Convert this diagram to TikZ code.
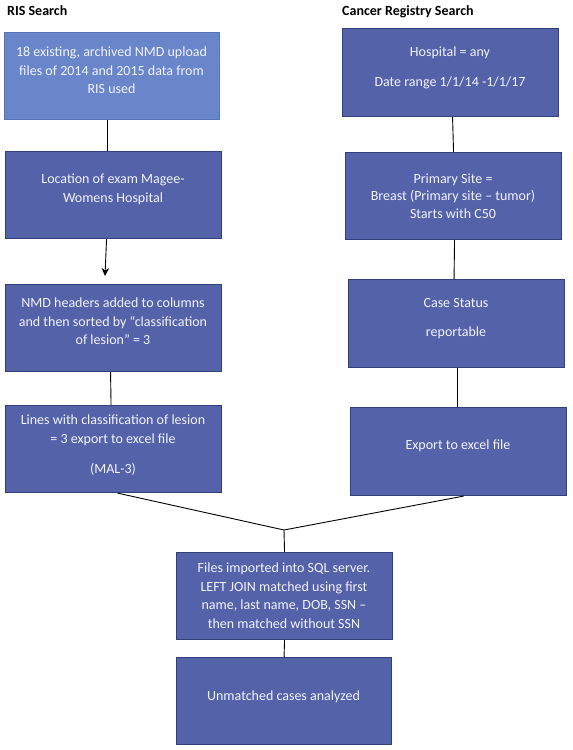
\documentclass[tikz,border=0pt]{standalone}
\usepackage{fontspec}
\setmainfont{Carlito}
\usetikzlibrary{arrows.meta}
\definecolor{boxfill}{RGB}{84,99,169}
\definecolor{boxdraw}{RGB}{50,63,125}
\definecolor{lightfill}{RGB}{104,134,201}
\definecolor{lightdraw}{RGB}{86,115,184}
\definecolor{txtcol}{RGB}{242,242,248}
\tikzset{
  stepbox/.style={draw=boxdraw, fill=boxfill, line width=1.1pt, rectangle, anchor=north west,
    minimum width=216pt, minimum height=87pt, inner sep=0pt},
  firstbox/.style={stepbox, draw=lightdraw, fill=lightfill},
  txt/.style={text=txtcol, align=center, font=\fontsize{14}{18.5}\selectfont, inner sep=0pt, anchor=north},
  hdr/.style={font=\bfseries\fontsize{14}{17}\selectfont, anchor=base west, inner sep=0pt},
  conn/.style={draw=black, line width=0.9pt}
}
\begin{document}
\begin{tikzpicture}[x=1pt,y=-1pt]
\useasboundingbox (0,0) rectangle (573,750);
% headers
\node[hdr] (h1) at (7,15) {RIS Search};
\node[hdr] (h2) at (342,15) {Cancer Registry Search};
% left column
\node[firstbox, minimum width=215pt] (L1) at (4,32) {};
\node[stepbox] (L2) at (5,151) {};
\node[stepbox] (L3) at (5,284) {};
\node[stepbox] (L4) at (5,405) {};
% right column
\node[stepbox, minimum height=88pt] (R1) at (342,28) {};
\node[stepbox] (R2) at (345,152) {};
\node[stepbox, minimum height=88pt] (R3) at (348,279) {};
\node[stepbox, minimum height=88pt] (R4) at (350,407) {};
% bottom
\node[stepbox] (B1) at (176,552) {};
\node[stepbox, minimum width=215pt] (B2) at (176,657) {};
% texts
\node[txt] (tL1) at (111.5,47) {18 existing, archived NMD upload\\files of 2014 and 2015 data from\\RIS used};
\node[txt] (tL2) at (113,174) {Location of exam Magee-\\Womens Hospital};
\node[txt] (tL3) at (113,298) {NMD headers added to columns\\and then sorted by “classification\\of lesion” = 3};
\node[txt] (tL4) at (113,415) {Lines with classification of lesion\\= 3 export to excel file\\[11.5pt](MAL-3)};
\node[txt] (tR1) at (450,47) {Hospital = any\\[11.5pt]Date range 1/1/14 -1/1/17};
\node[txt, font=\fontsize{14}{17.1}\selectfont] (tR2) at (453,174) {Primary Site =\\Breast (Primary site – tumor)\\Starts with C50};
\node[txt] (tR3) at (456,298) {Case Status\\[10.5pt]reportable};
\node[txt] (tR4) at (458,440) {Export to excel file};
\node[txt] (tB1) at (284,563) {Files imported into SQL server.\\LEFT JOIN matched using first\\name, last name, DOB, SSN –\\then matched without SSN};
\node[txt] (tB2) at (283.5,691) {Unmatched cases analyzed};
% connectors
\coordinate (arrEnd) at (105,276);
\coordinate (J) at (284,530);
\draw[conn] ([xshift=-4.5pt]L1.south) -- ([xshift=-6pt]L2.north);
\draw[conn, -{Stealth[length=8pt,width=7.5pt]}] ([xshift=-7pt]L2.south) -- (arrEnd);
\draw[conn] ([xshift=-3pt]L3.south) -- ([xshift=-2.5pt]L4.north);
\draw[conn] ([xshift=2pt]R1.south) -- ([xshift=0pt]R2.north);
\draw[conn] ([xshift=1pt]R2.south) -- ([xshift=-2.5pt]R3.north);
\draw[conn] ([xshift=1pt]R3.south) -- ([xshift=-1pt]R4.north);
\draw[conn] ([xshift=4pt]L4.south) -- (J);
\draw[conn] ([xshift=5pt]R4.south) -- (J);
\draw[conn] (J) -- (B1.north);
\draw[conn] (B1.south) -- (B2.north);
\end{tikzpicture}
\end{document}
